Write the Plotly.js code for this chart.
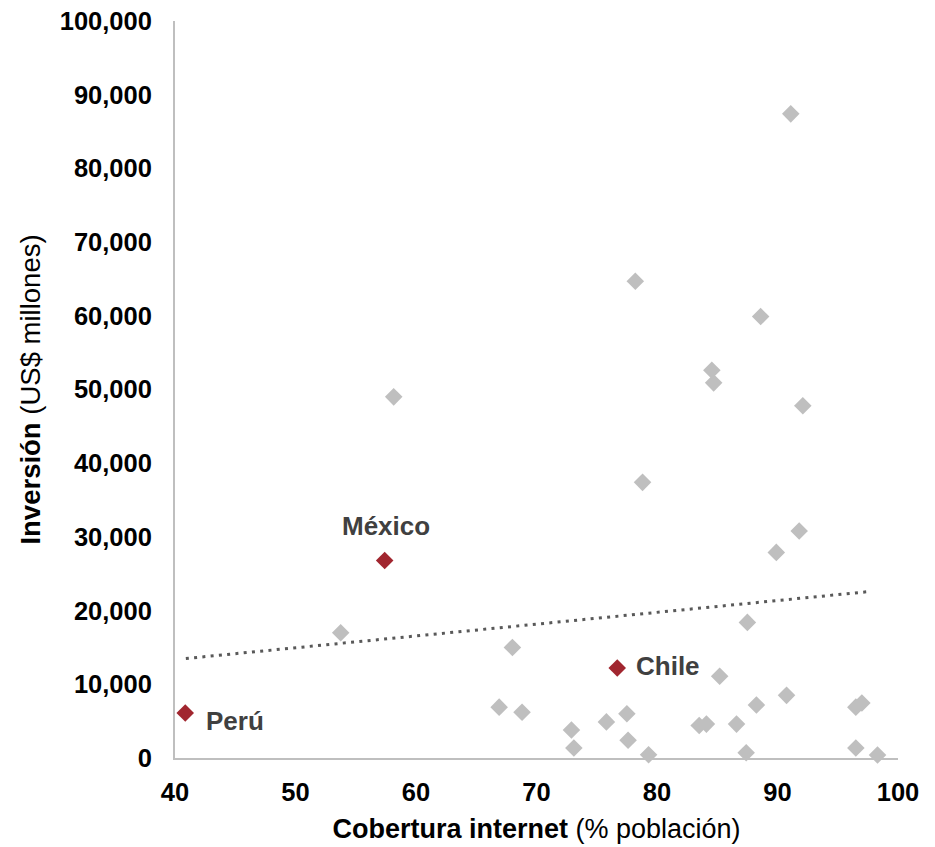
<!DOCTYPE html>
<html>
<head>
<meta charset="utf-8">
<script src="https://cdn.plot.ly/plotly-3.0.1.min.js"></script>
<style>
  html, body { margin: 0; padding: 0; background: #ffffff; }
  #chart { width: 935px; height: 847px; }
</style>
</head>
<body>
<div id="chart"></div>
<script>
// Other countries: internet coverage (% population) and investment (US$ millions)
const otherCoverage = [91.1, 78.2, 88.6, 84.55, 84.7, 58.15, 92.1, 78.8, 91.8, 89.9,
  53.75, 87.5, 68.0, 85.2, 90.75, 88.25, 66.9, 68.8, 72.9, 73.1,
  75.8, 77.5, 77.6, 79.3, 83.5, 84.1, 86.6, 87.4, 96.5, 97.0, 96.5, 98.3];
const otherInvestment = [87400, 64700, 59900, 52600, 50900, 49000, 47800, 37400, 30800, 27900,
  17000, 18400, 15000, 11100, 8500, 7200, 6900, 6200, 3800, 1350,
  4900, 6000, 2400, 450, 4400, 4600, 4600, 700, 6900, 7450, 1350, 400];

// Highlighted countries
const highlightNames = ['Perú', 'México', 'Chile'];
const highlightCoverage = [40.85, 57.4, 76.7];
const highlightInvestment = [6100, 26800, 12200];

// Linear trendline end points
const trendCoverage = [40.9, 97.7];
const trendInvestment = [13500, 22600];

// Axis ticks
const xTicks = [40, 50, 60, 70, 80, 90, 100];
const yTicks = [0, 10000, 20000, 30000, 40000, 50000, 60000, 70000, 80000, 90000, 100000];

const FONT = 'Arial, "Liberation Sans", sans-serif';

const traces = [
  {
    x: otherCoverage, y: otherInvestment, type: 'scatter', mode: 'markers',
    marker: { symbol: 'diamond', size: 13.5, color: '#BFBFBF', line: { width: 0 } },
    cliponaxis: false, hoverinfo: 'x+y'
  },
  {
    x: trendCoverage, y: trendInvestment, type: 'scatter', mode: 'lines',
    line: { color: '#595959', width: 3, dash: '3px,5.3px' },
    hoverinfo: 'skip'
  },
  {
    x: highlightCoverage, y: highlightInvestment, type: 'scatter', mode: 'markers',
    text: highlightNames,
    marker: { symbol: 'diamond', size: 13.5, color: '#A1262F', line: { width: 0 } },
    cliponaxis: false, hoverinfo: 'text+x+y'
  }
];

const labelShifts = [
  { xanchor: 'left', xshift: 19, yshift: -8 },
  { xanchor: 'center', xshift: 1, yshift: 34 },
  { xanchor: 'left', xshift: 17, yshift: 2 }
];

const annotations = highlightNames.map((name, i) => ({
  x: highlightCoverage[i], y: highlightInvestment[i], xref: 'x', yref: 'y',
  text: '<b>' + name + '</b>', showarrow: false,
  xanchor: labelShifts[i].xanchor, yanchor: 'middle',
  xshift: labelShifts[i].xshift, yshift: labelShifts[i].yshift,
  font: { family: FONT, size: 26, color: '#404040' }
}));

const layout = {
  width: 935, height: 847,
  margin: { l: 175, r: 37, t: 21, b: 89, pad: 0 },
  paper_bgcolor: '#ffffff', plot_bgcolor: '#ffffff',
  showlegend: false,
  font: { family: FONT, color: '#000000' },
  xaxis: {
    range: [40, 100], tickvals: xTicks, ticktext: xTicks.map(String),
    showgrid: false, zeroline: false,
    showline: true, linecolor: '#BFBFBF', linewidth: 2, layer: 'below traces',
    ticks: 'outside', ticklen: 10, tickcolor: 'rgba(0,0,0,0)',
    tickfont: { family: FONT, size: 25.5, color: '#000000', weight: 'bold' },
    title: {
      text: '<b>Cobertura internet</b> (% población)',
      font: { family: FONT, size: 27, color: '#000000' },
      standoff: 15
    }
  },
  yaxis: {
    range: [0, 100000], tickvals: yTicks,
    ticktext: yTicks.map(v => v.toLocaleString('en-US')),
    showgrid: false, zeroline: false,
    showline: true, linecolor: '#BFBFBF', linewidth: 2, layer: 'below traces',
    ticks: 'outside', ticklen: 16, tickcolor: 'rgba(0,0,0,0)',
    tickfont: { family: FONT, size: 25.5, color: '#000000', weight: 'bold' },
    title: {
      text: '<b>Inversión</b> (US$ millones)',
      font: { family: FONT, size: 27.5, color: '#000000' },
      standoff: 11
    }
  },
  annotations: annotations
};

Plotly.newPlot('chart', traces, layout, { displayModeBar: false, staticPlot: true });
</script>
</body>
</html>
